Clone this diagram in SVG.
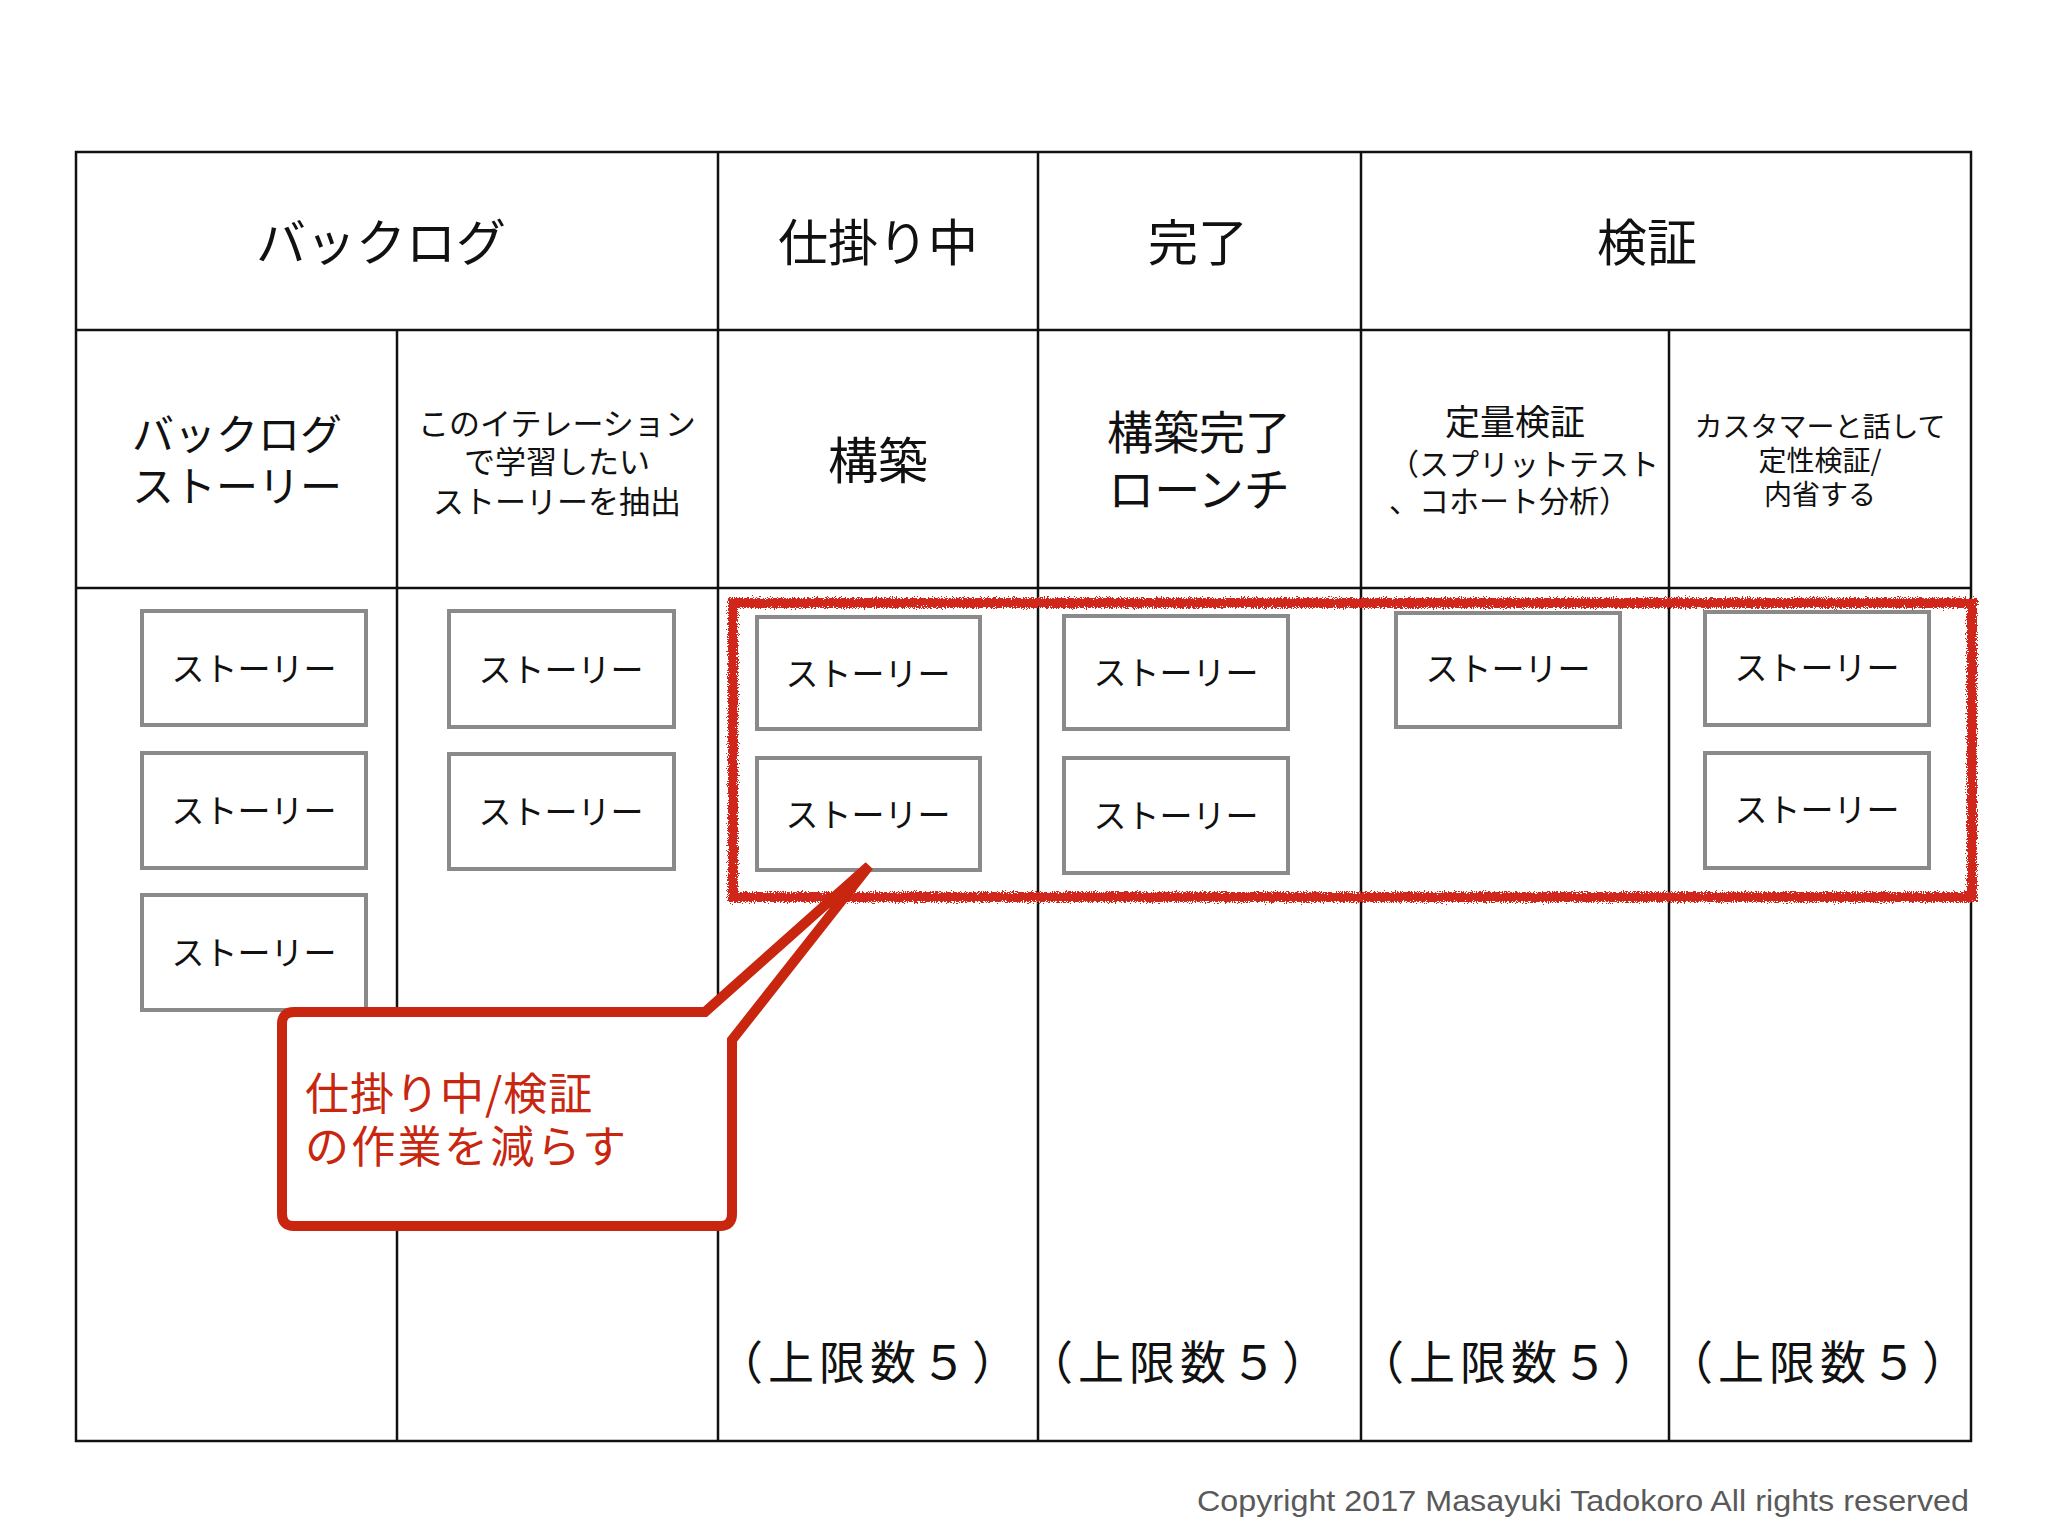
<svg xmlns="http://www.w3.org/2000/svg" width="2048" height="1536" viewBox="0 0 2048 1536">
<defs>
<style>
.jp{font-family:"Noto Sans CJK JP","Noto Sans CJK SC",sans-serif;fill:#111}
.grid{stroke:#111;stroke-width:2.5;fill:none}
.story rect{fill:#fff;stroke:#8a8a8a;stroke-width:4}
.story text{font-family:"Noto Sans CJK JP",sans-serif;font-size:33px;fill:#111;text-anchor:middle}
.mid{text-anchor:middle}
</style>
<filter id="rough" x="-3%" y="-10%" width="106%" height="120%">
<feTurbulence type="fractalNoise" baseFrequency="0.9" numOctaves="2" seed="4" result="n"/>
<feDisplacementMap in="SourceGraphic" in2="n" scale="8" xChannelSelector="R" yChannelSelector="G"/>
</filter>
</defs>
<rect width="2048" height="1536" fill="#fff"/>

<g id="table">
<rect class="grid" x="76" y="152" width="1895" height="1289"/>
<line class="grid" x1="76" y1="330" x2="1971" y2="330"/>
<line class="grid" x1="76" y1="588" x2="1971" y2="588"/>
<line class="grid" x1="397" y1="330" x2="397" y2="1441"/>
<line class="grid" x1="718" y1="152" x2="718" y2="1441"/>
<line class="grid" x1="1038" y1="152" x2="1038" y2="1441"/>
<line class="grid" x1="1361" y1="152" x2="1361" y2="1441"/>
<line class="grid" x1="1669" y1="330" x2="1669" y2="1441"/>
</g>

<g id="headers" class="jp">
<text class="mid" x="381" y="261" font-size="50">バックログ</text>
<text class="mid" x="878" y="261" font-size="50">仕掛り中</text>
<text class="mid" x="1198" y="261" font-size="50">完了</text>
<text class="mid" x="1647" y="261" font-size="50">検証</text>
</g>

<g id="subheaders" class="jp">
<text class="mid" x="237" font-size="42"><tspan x="237" y="450">バックログ</tspan><tspan x="237" y="502">ストーリー</tspan></text>
<text class="mid" x="557" font-size="31"><tspan x="557" y="435">このイテレーション</tspan><tspan x="557" y="473">で学習したい</tspan><tspan x="557" y="513">ストーリーを抽出</tspan></text>
<text class="mid" x="878" y="479" font-size="50">構築</text>
<text class="mid" x="1199" font-size="46"><tspan x="1199" y="449">構築完了</tspan><tspan x="1199" y="506">ローンチ</tspan></text>
<text class="mid" x="1515" y="435" font-size="35">定量検証</text>
<text x="1389" font-size="30"><tspan x="1389" y="475">（スプリットテスト</tspan><tspan x="1389" y="512">、コホート分析）</tspan></text>
<text class="mid" x="1820" font-size="28"><tspan x="1820" y="437">カスタマーと話して</tspan><tspan x="1820" y="471">定性検証/</tspan><tspan x="1820" y="505">内省する</tspan></text>
</g>

<g id="limits" class="jp" font-size="46" letter-spacing="5">
<text class="mid" x="870" y="1379">（上限数５）</text>
<text class="mid" x="1180" y="1379">（上限数５）</text>
<text class="mid" x="1511" y="1379">（上限数５）</text>
<text class="mid" x="1820" y="1379">（上限数５）</text>
</g>

<g id="story-backlog-1" class="story"><rect x="142" y="611" width="224" height="114"/><text x="254" y="681">ストーリー</text></g>
<g id="story-backlog-2" class="story"><rect x="142" y="753" width="224" height="115"/><text x="254" y="823">ストーリー</text></g>
<g id="story-backlog-3" class="story"><rect x="142" y="895" width="224" height="115"/><text x="254" y="965">ストーリー</text></g>
<g id="story-iter-1" class="story"><rect x="449" y="611" width="225" height="116"/><text x="561" y="682">ストーリー</text></g>
<g id="story-iter-2" class="story"><rect x="449" y="754" width="225" height="115"/><text x="561" y="824">ストーリー</text></g>
<g id="story-build-1" class="story"><rect x="757" y="617" width="223" height="112"/><text x="868" y="686">ストーリー</text></g>
<g id="story-build-2" class="story"><rect x="757" y="758" width="223" height="112"/><text x="868" y="827">ストーリー</text></g>
<g id="story-done-1" class="story"><rect x="1064" y="616" width="224" height="113"/><text x="1176" y="685">ストーリー</text></g>
<g id="story-done-2" class="story"><rect x="1064" y="758" width="224" height="115"/><text x="1176" y="828">ストーリー</text></g>
<g id="story-quant-1" class="story"><rect x="1396" y="613" width="224" height="114"/><text x="1508" y="681">ストーリー</text></g>
<g id="story-qual-1" class="story"><rect x="1705" y="612" width="224" height="113"/><text x="1817" y="680">ストーリー</text></g>
<g id="story-qual-2" class="story"><rect x="1705" y="753" width="224" height="115"/><text x="1817" y="822">ストーリー</text></g>

<g id="wip-highlight">
<rect x="733" y="603" width="1239" height="294" fill="none" stroke="#d0281a" stroke-width="10" filter="url(#rough)"/>
</g>

<g id="connectors"></g>

<g id="callout">
<path d="M294,1012 L705,1012 L869,866 L732,1040 L732,1214 Q732,1226 720,1226 L294,1226 Q282,1226 282,1214 L282,1024 Q282,1012 294,1012 Z" fill="#fff" stroke="#c8260f" stroke-width="10" stroke-linejoin="miter" stroke-miterlimit="4"/>
<text font-family="Noto Sans CJK JP, sans-serif" font-size="44" fill="#c8260f"><tspan x="305" y="1110" letter-spacing="1">仕掛り中/検証</tspan><tspan x="305" y="1163" letter-spacing="2.3">の作業を減らす</tspan></text>
</g>

<g id="copyright">
<text x="1197" y="1511" font-family="Liberation Sans, Arial, sans-serif" font-size="30" fill="#595959" textLength="772" lengthAdjust="spacingAndGlyphs">Copyright 2017 Masayuki Tadokoro All rights reserved</text>
</g>
</svg>
